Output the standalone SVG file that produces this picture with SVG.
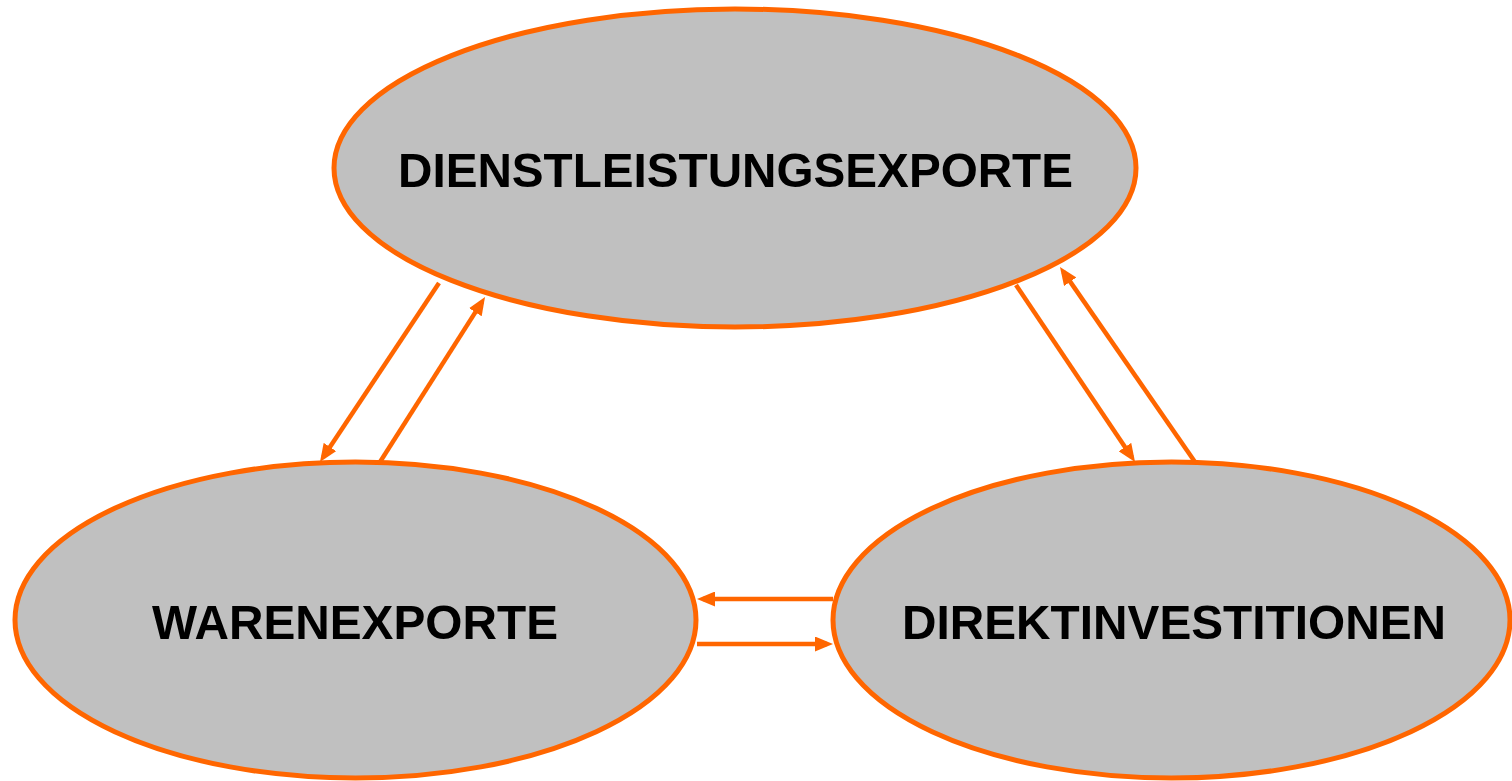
<svg xmlns="http://www.w3.org/2000/svg" width="1512" height="781" viewBox="0 0 1512 781">
<style>
.node{fill:#C0C0C0;stroke:#FF6600;stroke-width:5}
.lbl{font-family:"Liberation Sans",Arial,sans-serif;font-weight:bold;font-size:49px;fill:#000;text-anchor:middle}
.conn{stroke:#FF6600;stroke-width:4.5;fill:none;marker-end:url(#ah)}
</style>
<defs>
<marker id="ah" markerUnits="userSpaceOnUse" markerWidth="18" markerHeight="15" refX="12" refY="7.5" orient="auto">
<path d="M0,0 L18,7.5 L0,15 z" fill="#FF6600"/>
</marker>
</defs>
<rect width="1512" height="781" fill="#fff"/>
<g id="node-dienstleistungsexporte">
<ellipse class="node" cx="735" cy="168" rx="401" ry="159"/>
<text class="lbl" x="735.5" y="187" textLength="675" lengthAdjust="spacingAndGlyphs">DIENSTLEISTUNGSEXPORTE</text>
</g>
<g id="node-warenexporte">
<ellipse class="node" cx="355.5" cy="620" rx="340.5" ry="158"/>
<text class="lbl" x="355" y="639" textLength="406" lengthAdjust="spacingAndGlyphs">WARENEXPORTE</text>
</g>
<g id="node-direktinvestitionen">
<ellipse class="node" cx="1171.5" cy="620" rx="338.5" ry="158"/>
<text class="lbl" x="1174" y="639" textLength="544" lengthAdjust="spacingAndGlyphs">DIREKTINVESTITIONEN</text>
</g>
<g id="connectors">
<line class="conn" x1="439" y1="283" x2="323.3" y2="457"/>
<line class="conn" x1="380" y1="462" x2="481.8" y2="302.1"/>
<line class="conn" x1="833" y1="599" x2="703" y2="599"/>
<line class="conn" x1="697" y1="644" x2="827" y2="644"/>
<line class="conn" x1="1016" y1="285" x2="1131.7" y2="457"/>
<line class="conn" x1="1195" y1="462" x2="1063.4" y2="271.9"/>
</g>
</svg>
